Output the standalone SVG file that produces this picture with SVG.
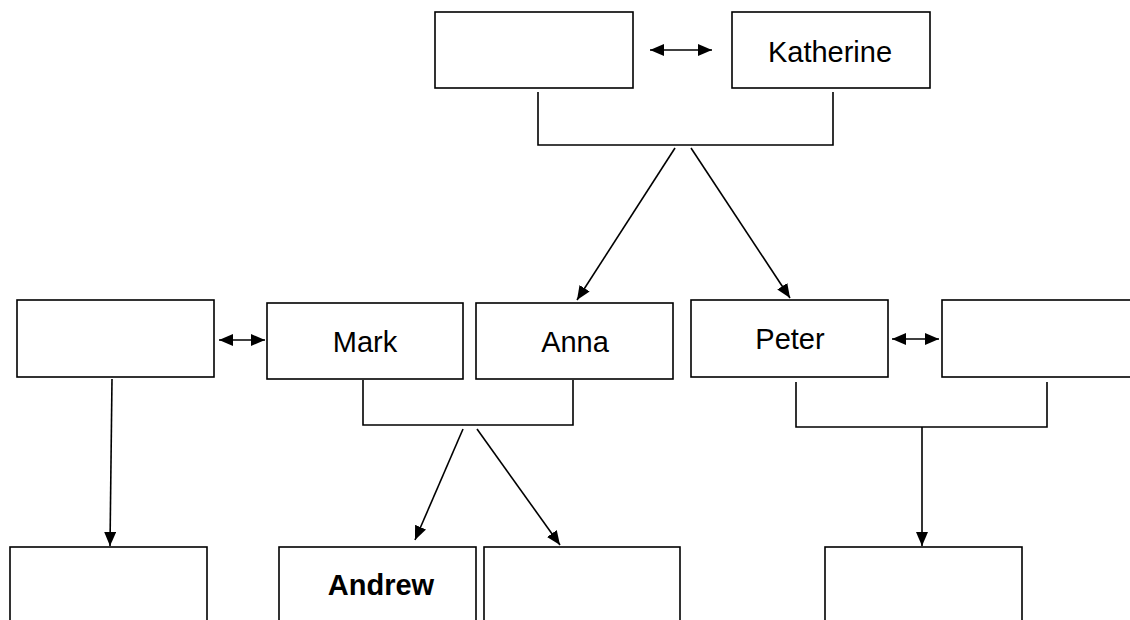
<svg xmlns="http://www.w3.org/2000/svg" width="1130" height="620" viewBox="0 0 1130 620">
<style>
.box{fill:#fff;stroke:#000;stroke-width:1.6}
.ln{fill:none;stroke:#000;stroke-width:1.6}
.t{font-family:"Liberation Sans",Arial,sans-serif;font-size:29px;fill:#000;text-anchor:middle}
.b{font-weight:bold}
</style>
<defs>
<marker id="ah" viewBox="0 0 14 12" refX="14" refY="6" markerWidth="14" markerHeight="12" markerUnits="userSpaceOnUse" orient="auto-start-reverse">
<path d="M0,0 L14,6 L0,12 Z" fill="#000"/>
</marker>
</defs>
<rect width="1130" height="620" fill="#fff"/>
<g id="n-top-left"><rect class="box" x="435" y="12" width="198" height="76"/></g>
<g id="n-katherine"><rect class="box" x="732" y="12" width="198" height="76"/><text class="t" x="830" y="62">Katherine</text></g>
<g id="n-mid-left"><rect class="box" x="17" y="300" width="197" height="77"/></g>
<g id="n-mark"><rect class="box" x="267" y="303" width="196" height="76"/><text class="t" x="365" y="352">Mark</text></g>
<g id="n-anna"><rect class="box" x="476" y="303" width="197" height="76"/><text class="t" x="575" y="352">Anna</text></g>
<g id="n-peter"><rect class="box" x="691" y="300" width="197" height="77"/><text class="t" x="790" y="349">Peter</text></g>
<g id="n-mid-right"><rect class="box" x="942" y="300" width="200" height="77"/></g>
<g id="n-bot-left"><rect class="box" x="10" y="547" width="197" height="90"/></g>
<g id="n-andrew"><rect class="box" x="279" y="547" width="197" height="90"/><text class="t b" x="381" y="595">Andrew</text></g>
<g id="n-bot-mid"><rect class="box" x="484" y="547" width="196" height="90"/></g>
<g id="n-bot-right"><rect class="box" x="825" y="547" width="197" height="90"/></g>
<g id="connectors">
<line class="ln" x1="650" y1="50" x2="712" y2="50" marker-start="url(#ah)" marker-end="url(#ah)"/>
<polyline class="ln" points="538,92 538,145 833,145 833,92"/>
<line class="ln" x1="675" y1="148" x2="577" y2="300" marker-end="url(#ah)"/>
<line class="ln" x1="691" y1="148" x2="790" y2="298" marker-end="url(#ah)"/>
<line class="ln" x1="219" y1="340" x2="265" y2="340" marker-start="url(#ah)" marker-end="url(#ah)"/>
<line class="ln" x1="892" y1="339" x2="939" y2="339" marker-start="url(#ah)" marker-end="url(#ah)"/>
<line class="ln" x1="112" y1="379" x2="110" y2="546" marker-end="url(#ah)"/>
<polyline class="ln" points="363,380 363,425 573,425 573,380"/>
<line class="ln" x1="463" y1="429" x2="415" y2="540" marker-end="url(#ah)"/>
<line class="ln" x1="477" y1="429" x2="560" y2="545" marker-end="url(#ah)"/>
<polyline class="ln" points="796,382 796,427 1047,427 1047,382"/>
<line class="ln" x1="922" y1="427" x2="922" y2="546" marker-end="url(#ah)"/>
</g>
</svg>
